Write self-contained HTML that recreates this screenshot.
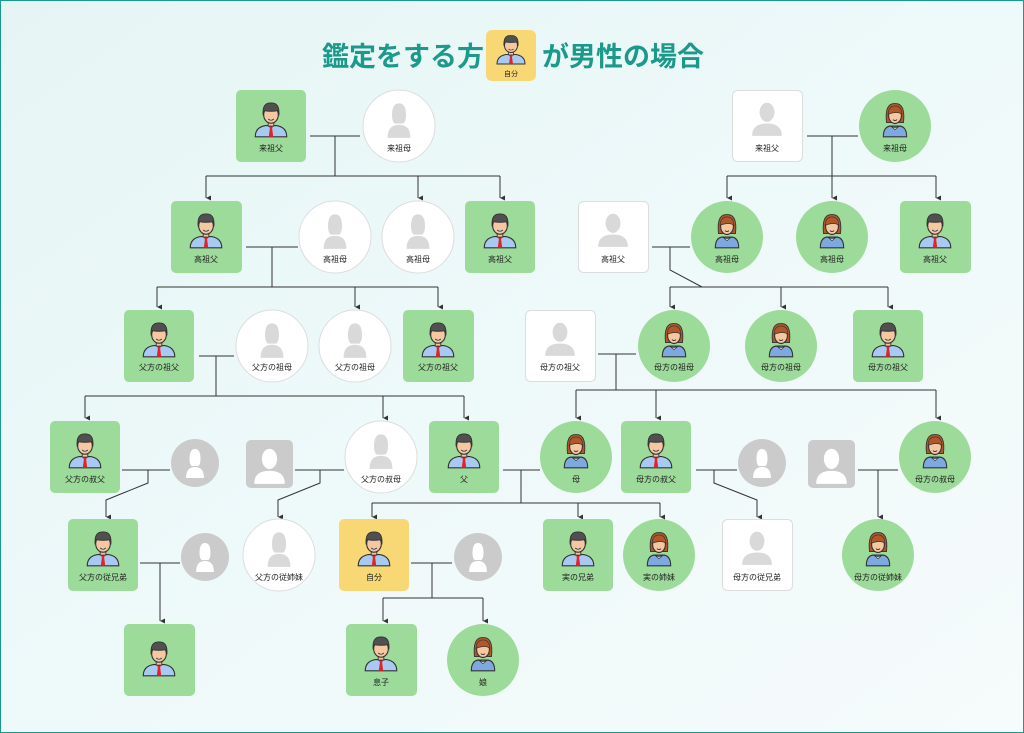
<!DOCTYPE html>
<html><head><meta charset="utf-8"><style>
html,body{margin:0;padding:0;width:1024px;height:733px;overflow:hidden}
svg{display:block}
text{font-family:"Liberation Sans","Noto Sans CJK JP",sans-serif;}
.l{font-size:8px;fill:#222;text-anchor:middle}
.ln{stroke:#333;stroke-width:1;fill:none}
</style></head><body>
<svg width="1024" height="733" viewBox="0 0 1024 733" xmlns="http://www.w3.org/2000/svg">
<defs>
<linearGradient id="bg" x1="0" y1="0" x2="1" y2="1">
<stop offset="0" stop-color="#e6f5f4"/><stop offset="0.5" stop-color="#eef9fa"/><stop offset="1" stop-color="#f6fbfb"/>
</linearGradient>
<marker id="ar" markerWidth="6" markerHeight="6" refX="3" refY="5" orient="auto" markerUnits="userSpaceOnUse">
<path d="M0.5,0 L3,5 L5.5,0 Z" fill="#333"/></marker>
<symbol id="man" viewBox="0 0 32 32" preserveAspectRatio="none">
<path d="M2 31 Q2 23 11 21.5 L21 21.5 Q30 23 30 31 Z" fill="#a8c9f2" stroke="#333" stroke-width="1"/>
<path d="M14 21.5 L18 21.5 L17 24 L18 31 L14 31 L15 24 Z" fill="#e0242a"/>
<rect x="13.5" y="17" width="5" height="5" fill="#f4c39c" stroke="#333" stroke-width="0.8"/>
<ellipse cx="16" cy="12.5" rx="6.5" ry="7" fill="#f6c8a2" stroke="#333" stroke-width="1"/>
<path d="M9 13 Q8 2 16 2.5 Q24 2 23 13 L22 9 Q16 10 10 9 Z" fill="#505050" stroke="#333" stroke-width="0.8"/>
<path d="M13.5 16 Q16 18 18.5 16" stroke="#333" stroke-width="0.8" fill="#fff"/>
</symbol>
<symbol id="woman" viewBox="0 0 32 32" preserveAspectRatio="none">
<path d="M8 19 Q6 2.5 16 3 Q26 2.5 24 19 Z" fill="#b0582a" stroke="#333" stroke-width="0.8"/>
<path d="M5 31 Q5 23 11 22 L21 22 Q27 23 27 31 Z" fill="#7ea9e0" stroke="#333" stroke-width="1"/>
<path d="M12 22 L16 25 L20 22 L16 23.5 Z" fill="#fff" stroke="#333" stroke-width="0.6"/>
<ellipse cx="16" cy="13" rx="6" ry="6.8" fill="#f6c8a2" stroke="#333" stroke-width="1"/>
<path d="M9.5 12 Q10 5 16 5 Q22 5 22.5 12 Q18 9 9.5 12 Z" fill="#b0582a" stroke="#333" stroke-width="0.6"/>
<path d="M14 16.5 Q16 18 18 16.5" stroke="#333" stroke-width="0.8" fill="none"/>
</symbol>
<symbol id="sil" viewBox="0 0 32 32" preserveAspectRatio="none">
<ellipse cx="16" cy="10" rx="7" ry="8.5"/>
<path d="M2 31 Q2 20 16 20 Q30 20 30 31 Z"/>
</symbol>
<symbol id="silw" viewBox="0 0 32 32" preserveAspectRatio="none">
<path d="M8 12 Q8 2 16 2 Q24 2 24 12 Q24 17 21 19 L11 19 Q8 17 8 12 Z"/>
<path d="M3 31 Q3 20 16 20 Q29 20 29 31 Z"/>
</symbol>
</defs>
<rect x="0.5" y="0.5" width="1023" height="732" fill="url(#bg)" stroke="#1a9a8a"/>

<text x="322" y="66" font-size="27" font-weight="bold" fill="#1b9a8c">鑑定をする方</text>
<rect x="486" y="30" width="50" height="51" rx="6" fill="#f8d874"/>
<use href="#man" x="495" y="33" width="32" height="32"/>
<text x="511" y="76" class="l" style="font-size:7px">自分</text>
<text x="542" y="66" font-size="27" font-weight="bold" fill="#1b9a8c">が男性の場合</text>

<g class="ln">
<path d="M310 136 H360 M335 136 V176 M206 176 H500"/>
<path d="M206 176 V198" marker-end="url(#ar)"/><path d="M418 176 V198" marker-end="url(#ar)"/><path d="M500 176 V198" marker-end="url(#ar)"/>
<path d="M807 136 H858 M832 136 V176 M727 176 H936"/>
<path d="M727 176 V198" marker-end="url(#ar)"/><path d="M832 176 V198" marker-end="url(#ar)"/><path d="M936 176 V198" marker-end="url(#ar)"/>
<path d="M246 247 H298 M272 247 V287 M157 287 H438"/>
<path d="M157 287 V307" marker-end="url(#ar)"/><path d="M355 287 V307" marker-end="url(#ar)"/><path d="M438 287 V307" marker-end="url(#ar)"/>
<path d="M652 247 H690 M670 247 V270 L702 287 M670 287 H888"/>
<path d="M670 287 V307" marker-end="url(#ar)"/><path d="M781 287 V307" marker-end="url(#ar)"/><path d="M888 287 V307" marker-end="url(#ar)"/>
<path d="M199 356 H234 M216 356 V396 M85 396 H464"/>
<path d="M85 396 V418" marker-end="url(#ar)"/><path d="M383 396 V418" marker-end="url(#ar)"/><path d="M464 396 V418" marker-end="url(#ar)"/>
<path d="M598 354 H636 M616 354 V390 M576 390 H936"/>
<path d="M576 390 V418" marker-end="url(#ar)"/><path d="M656 390 V418" marker-end="url(#ar)"/><path d="M936 390 V418" marker-end="url(#ar)"/>
<path d="M122 470 H170 M148 470 V483 L106 500 V517" marker-end="url(#ar)"/>
<path d="M295 470 H344 M320 470 V483 L278 500 V517" marker-end="url(#ar)"/>
<path d="M503 470 H540 M521 470 V503 M372 503 H660"/>
<path d="M372 503 V517" marker-end="url(#ar)"/><path d="M578 503 V517" marker-end="url(#ar)"/><path d="M660 503 V517" marker-end="url(#ar)"/>
<path d="M696 470 H737 M714 470 V483 L757 500 V517" marker-end="url(#ar)"/>
<path d="M858 470 H898 M878 470 V517" marker-end="url(#ar)"/>
<path d="M140 563 H180 M160 563 V621" marker-end="url(#ar)"/>
<path d="M411 563 H452 M432 563 V598 M383 598 H483"/>
<path d="M383 598 V621" marker-end="url(#ar)"/><path d="M483 598 V621" marker-end="url(#ar)"/>
</g>

<!-- Row 1 -->
<rect x="236" y="90" width="70" height="72" rx="5" fill="#9ddb9a"/><use href="#man" x="253" y="100" width="36" height="38"/><text x="271" y="151" class="l">来祖父</text>
<circle cx="399" cy="126" r="36" fill="#fff" stroke="#ddd"/><use href="#silw" x="385" y="101" width="28" height="38" fill="#d9d9d9"/><text x="399" y="151" class="l">来祖母</text>
<rect x="732.5" y="90.5" width="70" height="71" rx="5" fill="#fff" stroke="#ddd"/><use href="#sil" x="750" y="101" width="34" height="36" fill="#d9d9d9"/><text x="767" y="151" class="l">来祖父</text>
<circle cx="895" cy="126" r="36" fill="#9ddb9a"/><use href="#woman" x="878" y="100" width="34" height="38"/><text x="895" y="151" class="l">来祖母</text>

<!-- Row 2 -->
<rect x="171" y="201" width="71" height="72" rx="5" fill="#9ddb9a"/><use href="#man" x="188" y="211" width="36" height="38"/><text x="206" y="262" class="l">高祖父</text>
<circle cx="335" cy="237" r="36" fill="#fff" stroke="#ddd"/><use href="#silw" x="321" y="212" width="28" height="38" fill="#d9d9d9"/><text x="335" y="262" class="l">高祖母</text>
<circle cx="418" cy="237" r="36" fill="#fff" stroke="#ddd"/><use href="#silw" x="404" y="212" width="28" height="38" fill="#d9d9d9"/><text x="418" y="262" class="l">高祖母</text>
<rect x="465" y="201" width="70" height="72" rx="5" fill="#9ddb9a"/><use href="#man" x="482" y="211" width="36" height="38"/><text x="500" y="262" class="l">高祖父</text>
<rect x="578.5" y="201.5" width="70" height="71" rx="5" fill="#fff" stroke="#ddd"/><use href="#sil" x="596" y="212" width="34" height="36" fill="#d9d9d9"/><text x="613" y="262" class="l">高祖父</text>
<circle cx="727" cy="237" r="36" fill="#9ddb9a"/><use href="#woman" x="710" y="211" width="34" height="38"/><text x="727" y="262" class="l">高祖母</text>
<circle cx="832" cy="237" r="36" fill="#9ddb9a"/><use href="#woman" x="815" y="211" width="34" height="38"/><text x="832" y="262" class="l">高祖母</text>
<rect x="900" y="201" width="71" height="72" rx="5" fill="#9ddb9a"/><use href="#man" x="917" y="211" width="36" height="38"/><text x="935" y="262" class="l">高祖父</text>

<!-- Row 3 -->
<rect x="124" y="310" width="70" height="72" rx="5" fill="#9ddb9a"/><use href="#man" x="141" y="320" width="36" height="38"/><text x="159" y="370" class="l">父方の祖父</text>
<circle cx="272" cy="346" r="36" fill="#fff" stroke="#ddd"/><use href="#silw" x="258" y="321" width="28" height="38" fill="#d9d9d9"/><text x="272" y="370" class="l">父方の祖母</text>
<circle cx="355" cy="346" r="36" fill="#fff" stroke="#ddd"/><use href="#silw" x="341" y="321" width="28" height="38" fill="#d9d9d9"/><text x="355" y="370" class="l">父方の祖母</text>
<rect x="403" y="310" width="71" height="72" rx="5" fill="#9ddb9a"/><use href="#man" x="420" y="320" width="36" height="38"/><text x="438" y="370" class="l">父方の祖父</text>
<rect x="525.5" y="310.5" width="70" height="71" rx="5" fill="#fff" stroke="#ddd"/><use href="#sil" x="543" y="321" width="34" height="36" fill="#d9d9d9"/><text x="560" y="370" class="l">母方の祖父</text>
<circle cx="674" cy="346" r="36" fill="#9ddb9a"/><use href="#woman" x="657" y="320" width="34" height="38"/><text x="674" y="370" class="l">母方の祖母</text>
<circle cx="781" cy="346" r="36" fill="#9ddb9a"/><use href="#woman" x="764" y="320" width="34" height="38"/><text x="781" y="370" class="l">母方の祖母</text>
<rect x="853" y="310" width="70" height="72" rx="5" fill="#9ddb9a"/><use href="#man" x="870" y="320" width="36" height="38"/><text x="888" y="370" class="l">母方の祖父</text>

<!-- Row 4 -->
<rect x="50" y="421" width="70" height="72" rx="5" fill="#9ddb9a"/><use href="#man" x="67" y="431" width="36" height="38"/><text x="85" y="482" class="l">父方の叔父</text>
<circle cx="195" cy="463" r="24" fill="#cbcbcb"/><use href="#silw" x="184" y="447" width="22" height="32" fill="#fff"/>
<rect x="246" y="440" width="47" height="48" rx="5" fill="#cbcbcb"/><use href="#sil" x="252" y="447" width="35" height="38" fill="#fff"/>
<circle cx="381" cy="457" r="36" fill="#fff" stroke="#ddd"/><use href="#silw" x="367" y="432" width="28" height="38" fill="#d9d9d9"/><text x="381" y="482" class="l">父方の叔母</text>
<rect x="429" y="421" width="70" height="72" rx="5" fill="#9ddb9a"/><use href="#man" x="446" y="431" width="36" height="38"/><text x="464" y="482" class="l">父</text>
<circle cx="576" cy="457" r="36" fill="#9ddb9a"/><use href="#woman" x="559" y="431" width="34" height="38"/><text x="576" y="482" class="l">母</text>
<rect x="621" y="421" width="70" height="72" rx="5" fill="#9ddb9a"/><use href="#man" x="638" y="431" width="36" height="38"/><text x="656" y="482" class="l">母方の叔父</text>
<circle cx="762" cy="463" r="24" fill="#cbcbcb"/><use href="#silw" x="751" y="447" width="22" height="32" fill="#fff"/>
<rect x="808" y="440" width="47" height="48" rx="5" fill="#cbcbcb"/><use href="#sil" x="814" y="447" width="35" height="38" fill="#fff"/>
<circle cx="935" cy="457" r="36" fill="#9ddb9a"/><use href="#woman" x="918" y="431" width="34" height="38"/><text x="935" y="482" class="l">母方の叔母</text>

<!-- Row 5 -->
<rect x="68" y="519" width="70" height="72" rx="5" fill="#9ddb9a"/><use href="#man" x="85" y="529" width="36" height="38"/><text x="103" y="580" class="l">父方の従兄弟</text>
<circle cx="205" cy="557" r="24" fill="#cbcbcb"/><use href="#silw" x="194" y="541" width="22" height="32" fill="#fff"/>
<circle cx="279" cy="555" r="36" fill="#fff" stroke="#ddd"/><use href="#silw" x="265" y="530" width="28" height="38" fill="#d9d9d9"/><text x="279" y="580" class="l">父方の従姉妹</text>
<rect x="339" y="519" width="70" height="72" rx="5" fill="#f8d874"/><use href="#man" x="356" y="529" width="36" height="38"/><text x="374" y="580" class="l">自分</text>
<circle cx="478" cy="557" r="24" fill="#cbcbcb"/><use href="#silw" x="467" y="541" width="22" height="32" fill="#fff"/>
<rect x="543" y="519" width="70" height="72" rx="5" fill="#9ddb9a"/><use href="#man" x="560" y="529" width="36" height="38"/><text x="578" y="580" class="l">実の兄弟</text>
<circle cx="659" cy="555" r="36" fill="#9ddb9a"/><use href="#woman" x="642" y="529" width="34" height="38"/><text x="659" y="580" class="l">実の姉妹</text>
<rect x="722.5" y="519.5" width="70" height="71" rx="5" fill="#fff" stroke="#ddd"/><use href="#sil" x="740" y="530" width="34" height="36" fill="#d9d9d9"/><text x="757" y="580" class="l">母方の従兄弟</text>
<circle cx="878" cy="555" r="36" fill="#9ddb9a"/><use href="#woman" x="861" y="529" width="34" height="38"/><text x="878" y="580" class="l">母方の従姉妹</text>

<!-- Row 6 -->
<rect x="124" y="624" width="71" height="72" rx="5" fill="#9ddb9a"/><use href="#man" x="141" y="639" width="36" height="38"/>
<rect x="346" y="624" width="71" height="72" rx="5" fill="#9ddb9a"/><use href="#man" x="363" y="634" width="36" height="38"/><text x="381" y="685" class="l">息子</text>
<circle cx="483" cy="660" r="36" fill="#9ddb9a"/><use href="#woman" x="466" y="634" width="34" height="38"/><text x="483" y="685" class="l">娘</text>
</svg>
</body></html>
